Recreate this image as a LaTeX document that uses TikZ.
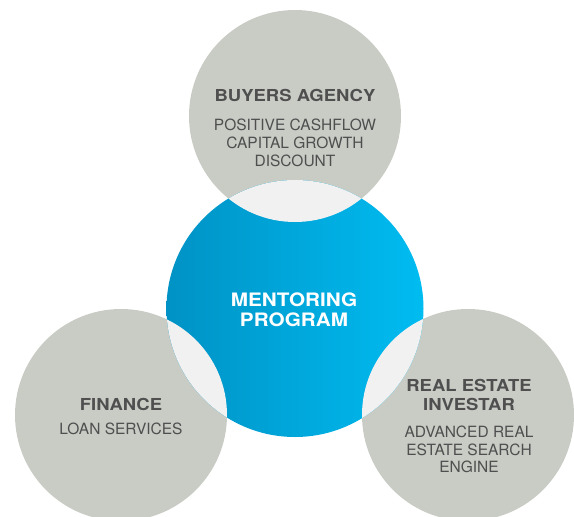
\documentclass[tikz,border=0pt]{standalone}
\usepackage{fontspec}
\setmainfont{TeX Gyre Heros}
\newfontfamily\headfont{TeX Gyre Heros}[FakeStretch=1.12]
\definecolor{ringgray}{HTML}{C8CCC5}
\definecolor{overlapgray}{HTML}{F1F1F1}
\definecolor{textgray}{HTML}{4F4F4F}
\definecolor{blueleft}{HTML}{0092C5}
\definecolor{bluemid}{HTML}{00ACE3}
\definecolor{blueright}{HTML}{00BCF1}
\tikzset{
	ring/.style={fill=ringgray},
	heading/.style={anchor=base, align=center, text=textgray, font=\headfont\bfseries\fontsize{16.5}{19}\selectfont},
	body/.style={anchor=base, align=center, text=textgray, font=\fontsize{15.5}{17.7}\selectfont},
}
\begin{document}
\begin{tikzpicture}[x=1pt,y=-1pt]
	\useasboundingbox (0,0) rectangle (574,517);
	% outer circles
	\fill[ring] (295,116) circle[radius=106pt];
	\fill[ring] (121,415) circle[radius=106pt];
	\fill[ring] (468,415) circle[radius=106pt];
	% centre circle
	\shade[left color=blueleft, middle color=bluemid, right color=blueright] (295,308.5) circle[radius=128.5pt];
	% overlaps
	\foreach \cx/\cy in {295/116, 121/415, 468/415}{
		\begin{scope}
			\clip (\cx,\cy) circle[radius=106pt];
			\fill[overlapgray] (295,308.5) circle[radius=128.5pt];
		\end{scope}}
	% texts (base = last line)
	\node[heading] (buyers) at (295,101.7) {BUYERS AGENCY};
	\node[body] (buyerslist) at (295,166) {POSITIVE CASHFLOW\\CAPITAL GROWTH\\DISCOUNT};
	\node[heading, text=white, font=\headfont\bfseries\fontsize{18.5}{20}\selectfont] (mentor) at (294,326) {MENTORING\\PROGRAM};
	\node[heading] (finance) at (121,410) {FINANCE};
	\node[body] (financelist) at (121,434.3) {LOAN SERVICES};
	\node[heading] (investar) at (469,410) {REAL ESTATE\\INVESTAR};
	\node[body] (investarlist) at (469,472.7) {ADVANCED REAL\\ESTATE SEARCH\\ENGINE};
\end{tikzpicture}
\end{document}
